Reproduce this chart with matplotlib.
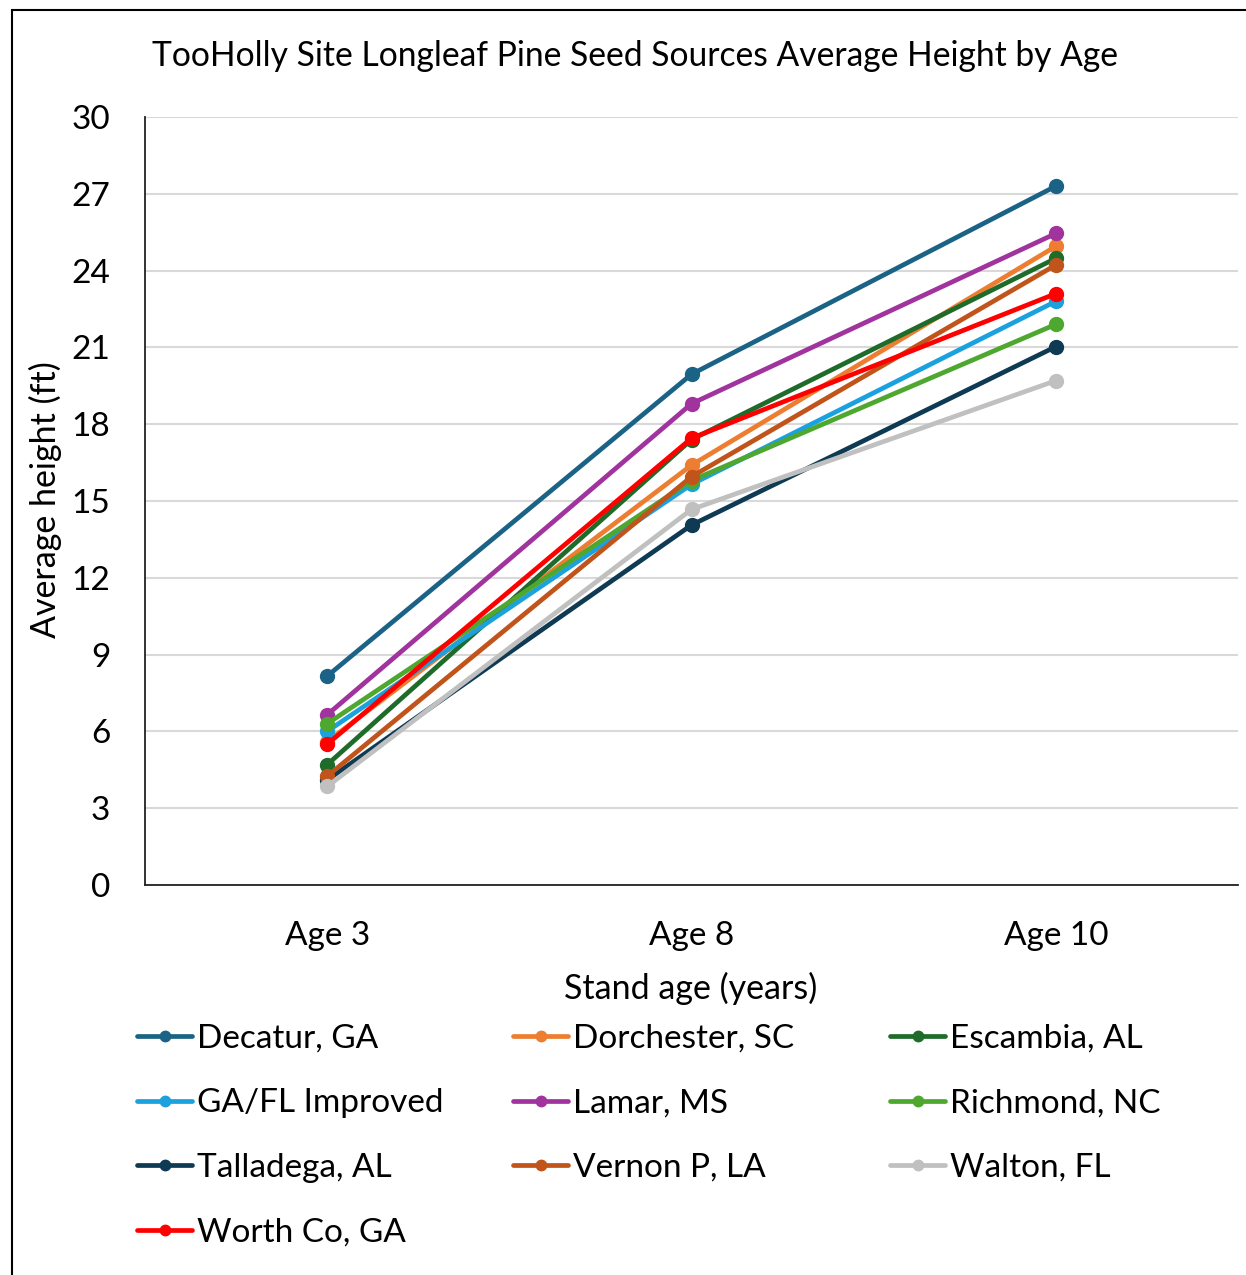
import matplotlib
matplotlib.use("Agg")
import matplotlib.pyplot as plt
from matplotlib.patches import Rectangle

ages = ["Age 3", "Age 8", "Age 10"]
sources = ["Decatur, GA", "Dorchester, SC", "Escambia, AL", "GA/FL Improved",
           "Lamar, MS", "Richmond, NC", "Talladega, AL", "Vernon P, LA",
           "Walton, FL", "Worth Co, GA"]
decatur = [8.16, 19.95, 27.3]
dorchester = [5.6, 16.4, 24.95]
escambia = [4.7, 17.4, 24.48]
gafl = [6.0, 15.65, 22.8]
lamar = [6.65, 18.8, 25.45]
richmond = [6.3, 15.8, 21.9]
talladega = [4.1, 14.06, 21.03]
vernon = [4.25, 15.95, 24.22]
walton = [3.85, 14.67, 19.7]
worth = [5.5, 17.45, 23.1]
series = [decatur, dorchester, escambia, gafl, lamar, richmond, talladega,
          vernon, walton, worth]
colors = ["#1b6386", "#ed7d31", "#1e6b2a", "#1ba1dd", "#a0339e", "#4ea72e",
          "#0e3a53", "#c0541a", "#c0c0c0", "#ff0000"]
yticks = [0, 3, 6, 9, 12, 15, 18, 21, 24, 27, 30]

W, H = 1246, 1275
fig = plt.figure(figsize=(W / 100, H / 100), dpi=100)
plt.rcParams['font.family'] = ['Lato', 'DejaVu Sans']

ax = fig.add_axes([145 / W, 1 - 885 / H, (1238 - 145) / W, (885 - 117) / H])
x = list(range(len(ages)))
handles = []
for name, vals, c in zip(sources, series, colors):
    h, = ax.plot(x, vals, color=c, lw=3.4, marker='o', ms=10, label=name,
                 solid_capstyle='round')
    handles.append(h)

ax.set_xlim(-0.5, 2.5)
ax.set_ylim(0, 30)
ax.set_yticks(yticks)
ax.set_xticks(x)
ax.set_xticklabels(ages)
ax.grid(axis='y', color='#d9d9d9', lw=1.5)
ax.set_axisbelow(True)
for s in ['top', 'right']:
    ax.spines[s].set_visible(False)
for s in ['left', 'bottom']:
    ax.spines[s].set_color('#222222')
    ax.spines[s].set_linewidth(1.3)
ax.tick_params(length=0, labelsize=24, colors='black')
ax.tick_params(axis='y', pad=25)
ax.tick_params(axis='x', pad=26)

fig.text(152 / W, 1 - 56 / H, "TooHolly Site Longleaf Pine Seed Sources Average Height by Age",
         ha='left', va='center', fontsize=24.2)
fig.text(45 / W, 1 - 500 / H, "Average height (ft)", rotation=90, ha='center',
         va='center', fontsize=24.5)
fig.text(691 / W, 1 - 988 / H, "Stand age (years)", ha='center', va='center',
         fontsize=24.5)

cols = [[0, 3, 6, 9], [1, 4, 7], [2, 5, 8]]
col_x = [137, 513, 890]
for cx, idxs in zip(col_x, cols):
    fig.legend([handles[i] for i in idxs], [sources[i] for i in idxs],
               loc='upper left', bbox_to_anchor=(cx / W, 1 - 1023.5 / H),
               frameon=False, fontsize=24, handlelength=1.65,
               handletextpad=0.15, labelspacing=1.04, borderpad=0,
               borderaxespad=0, markerscale=0.75)

fig.add_artist(Rectangle((12 / W, -0.01), 1.02, 1 - 10 / H + 0.01,
                         transform=fig.transFigure, fill=False,
                         edgecolor='black', lw=1.5))

fig.savefig("out.png", dpi=100)
